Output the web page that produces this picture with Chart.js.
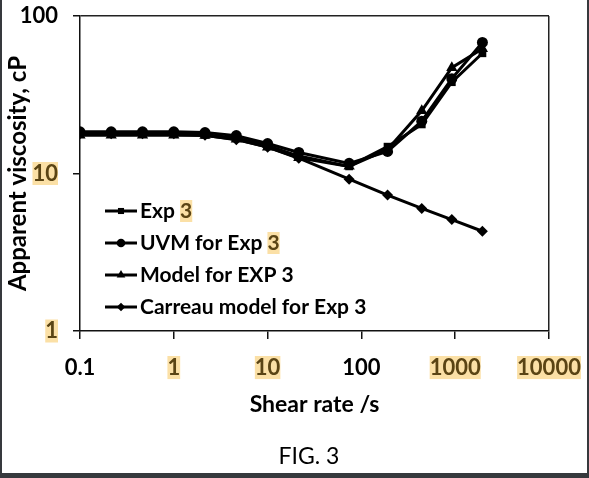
<!DOCTYPE html>
<html>
<head>
<meta charset="utf-8">
<script src="https://cdn.jsdelivr.net/npm/chart.js@4.4.1/dist/chart.umd.min.js"></script>
<style>
  html, body { margin: 0; padding: 0; }
  body { width: 589px; height: 478px; background: #36393d; position: relative; overflow: hidden; }
  #wrap { position: absolute; left: 2px; top: 0; width: 585px; height: 473px; background: #fff; }
</style>
</head>
<body>
<div id="wrap"><canvas id="chart" width="585" height="473"></canvas></div>
<script>
// shear rate (1/s)
const shearRates = [0.1, 0.215, 0.464, 1, 2.15, 4.64, 10, 21.5, 74, 190, 440, 920, 1950];
// apparent viscosity (cP)
const exp3 = [17.9, 17.9, 17.9, 17.9, 17.6, 16.8, 15.0, 12.9, 11.1, 14.8, 20.5, 38, 58];
const uvmExp3 = [18.4, 18.4, 18.4, 18.4, 18.2, 17.4, 15.5, 13.6, 11.6, 13.8, 21.5, 40, 68];
const modelExp3 = [17.5, 17.5, 17.5, 17.5, 17.4, 16.5, 14.7, 12.6, 11.1, 14.2, 25, 47, 62];
const carreauExp3 = [17.9, 17.9, 17.9, 17.9, 17.5, 16.4, 14.7, 12.5, 9.2, 7.3, 6.0, 5.1, 4.3];

const seriesNames = ['Exp 3', 'UVM for Exp 3', 'Model for EXP 3', 'Carreau model for Exp 3'];
const xTicks = [0.1, 1, 10, 100, 1000, 10000];
const yTicks = [1, 10, 100];
const xMarked = [1, 10, 1000, 10000];
const yMarked = [1, 10];
const legendMarked = [true, true, false, false];
const caption = 'FIG. 3';

const FONT = "Lato, 'Noto Sans', sans-serif";
const INK = '#000';
const MARK_BG = '#fbe0a6';
const MARK_INK = '#5a4414';

const toPts = (ys) => shearRates.map((x, i) => ({ x, y: ys[i] }));
const styles = [
  { pointStyle: 'rect', pointRadius: 5.5 },
  { pointStyle: 'circle', pointRadius: 5.5 },
  { pointStyle: 'triangle', pointRadius: 6.5 },
  { pointStyle: 'rectRot', pointRadius: 5.5 }
];

const datasets = [exp3, uvmExp3, modelExp3, carreauExp3].map((ys, i) => ({
  label: seriesNames[i],
  data: toPts(ys),
  borderColor: INK,
  backgroundColor: INK,
  borderWidth: 3,
  pointBorderWidth: 0,
  pointStyle: styles[i].pointStyle,
  pointRadius: styles[i].pointRadius,
  tension: 0
}));

// text with an optional highlighted tail, like a search hit
function markedText(ctx, text, x, y, markFrom, h) {
  if (markFrom < 0) {
    ctx.fillStyle = INK;
    ctx.fillText(text, x, y);
    return;
  }
  const head = text.slice(0, markFrom);
  const tail = text.slice(markFrom);
  ctx.fillStyle = INK;
  ctx.fillText(head, x, y);
  const tx = x + ctx.measureText(head).width;
  const w = ctx.measureText(tail).width;
  ctx.fillStyle = MARK_BG;
  ctx.fillRect(tx, y - h / 2, w, h);
  ctx.fillStyle = MARK_INK;
  ctx.fillText(tail, tx, y);
}

const insideLegend = {
  id: 'insideLegend',
  afterDraw(chart) {
    const ctx = chart.ctx;
    ctx.save();
    ctx.font = `bold 21px ${FONT}`;
    ctx.textBaseline = 'middle';
    ctx.textAlign = 'left';
    chart.data.datasets.forEach((ds, i) => {
      const y = 211 + i * 32;
      ctx.strokeStyle = INK;
      ctx.lineWidth = 3;
      ctx.beginPath();
      ctx.moveTo(103, y);
      ctx.lineTo(135, y);
      ctx.stroke();
      ctx.fillStyle = INK;
      Chart.helpers.drawPoint(ctx, { pointStyle: ds.pointStyle, radius: ds.pointStyle === 'triangle' ? 5 : 4.3, borderWidth: 0 }, 119, y);
      markedText(ctx, ds.label, 138, y, legendMarked[i] ? ds.label.length - 1 : -1, 22);
    });
    ctx.restore();
  }
};

// y tick labels, right-aligned against the tick marks, plus the figure caption
const extraText = {
  id: 'extraText',
  afterDraw(chart) {
    const s = chart.scales.y;
    const ctx = chart.ctx;
    ctx.save();
    ctx.font = `bold 22px ${FONT}`;
    ctx.textBaseline = 'middle';
    ctx.textAlign = 'left';
    yTicks.forEach((v) => {
      const label = String(v);
      const y = s.getPixelForValue(v);
      const w = ctx.measureText(label).width;
      markedText(ctx, label, s.right - 22 - w, y, yMarked.includes(v) ? 0 : -1, 23);
    });
    ctx.font = `23px ${FONT}`;
    ctx.textAlign = 'center';
    ctx.fillStyle = INK;
    ctx.fillText(caption, 307, 457);
    ctx.restore();
  }
};

const tickFont = { family: FONT, size: 22, weight: 'bold', lineHeight: 1.05 };
const titleFont = { family: FONT, size: 23, weight: 'bold', lineHeight: 1.2 };

new Chart(document.getElementById('chart'), {
  type: 'line',
  data: { datasets },
  options: {
    responsive: false,
    animation: false,
    devicePixelRatio: 1,
    layout: { padding: { left: 0, right: 38, top: 16, bottom: 0 } },
    plugins: {
      legend: { display: false },
      tooltip: { enabled: false },
      title: { display: false }
    },
    scales: {
      x: {
        type: 'logarithmic',
        min: 0.1,
        max: 10000,
        afterBuildTicks: (s) => { s.ticks = xTicks.map(v => ({ value: v })); },
        afterFit: (s) => { s.height = 142; s.paddingLeft = 0; s.paddingRight = 0; },
        border: { display: true, color: '#111', width: 1.5 },
        grid: {
          drawOnChartArea: true,
          color: (c) => (c.tick && c.tick.value === 10000 ? '#222' : 'rgba(0,0,0,0)'),
          lineWidth: 1.5,
          tickColor: '#111',
          tickLength: 8
        },
        ticks: {
          autoSkip: false,
          maxRotation: 0,
          padding: 17,
          font: tickFont,
          color: (c) => (xMarked.includes(c.tick.value) ? MARK_INK : INK),
          showLabelBackdrop: (c) => xMarked.includes(c.tick.value),
          backdropColor: MARK_BG,
          backdropPadding: { left: 0, right: 0, top: 0, bottom: 0 },
          callback: (v) => String(v)
        },
        title: {
          display: true,
          text: 'Shear rate /s',
          color: INK,
          font: titleFont,
          padding: { top: 0, bottom: 55 }
        }
      },
      y: {
        type: 'logarithmic',
        min: 1,
        max: 100,
        afterBuildTicks: (s) => { s.ticks = yTicks.map(v => ({ value: v })); },
        afterFit: (s) => { s.width = 78; s.paddingTop = 0; s.paddingBottom = 0; },
        border: { display: true, color: '#111', width: 1.5 },
        grid: {
          drawOnChartArea: true,
          color: (c) => (c.tick && c.tick.value === 100 ? '#222' : 'rgba(0,0,0,0)'),
          lineWidth: 1.5,
          tickColor: '#111',
          tickLength: 7
        },
        ticks: { display: false },
        title: {
          display: true,
          text: 'Apparent viscosity, cP',
          color: INK,
          font: { family: FONT, size: 24, weight: 'bold', lineHeight: 1.2 },
          padding: { top: 2, bottom: 0 }
        }
      }
    }
  },
  plugins: [insideLegend, extraText]
});
</script>
</body>
</html>
